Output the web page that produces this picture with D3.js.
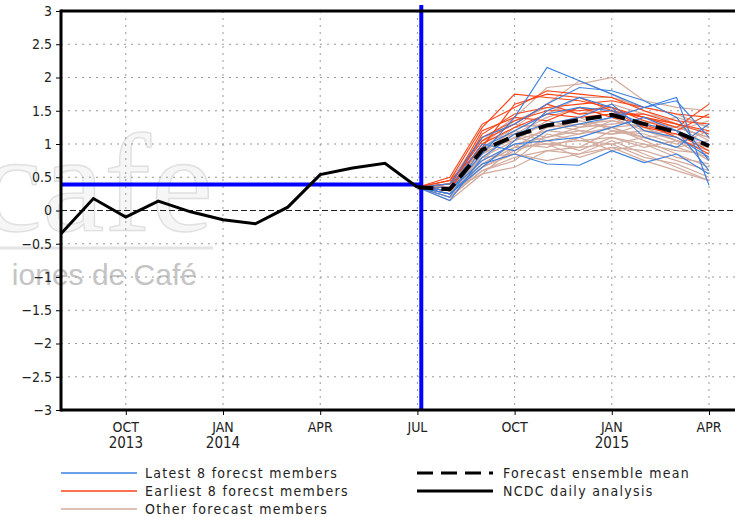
<!DOCTYPE html>
<html>
<head>
<meta charset="utf-8">
<script src="https://cdn.jsdelivr.net/npm/d3@7"></script>
<style>
  body { margin: 0; background: #fff; }
  svg { display: block; }
  text { font-family: "DejaVu Sans Condensed", "DejaVu Sans", sans-serif; fill: #222; }
</style>
</head>
<body>
<div id="chart"></div>
<script>
// month index 0 = Aug 2013
const tickMonths = [2, 5, 8, 11, 14, 17, 20]
const tickLabels = [['OCT', '2013'], ['JAN', '2014'], ['APR', ''], ['JUL', ''], ['OCT', ''], ['JAN', '2015'], ['APR', '']]
const yTicks = [-3, -2.5, -2, -1.5, -1, -0.5, 0, 0.5, 1, 1.5, 2, 2.5, 3]

const obsMonths = [0, 1, 2, 3, 4, 5, 6, 7, 8, 9, 10, 11]
const observed = [-0.35, 0.18, -0.10, 0.14, -0.02, -0.14, -0.20, 0.05, 0.54, 0.64, 0.71, 0.35]

// forecast months Jul 2014 .. Apr 2015
const fcMonths = [11, 12, 13, 14, 15, 16, 17, 18, 19, 20]
const ensembleMean = [0.35, 0.32, 0.91, 1.12, 1.28, 1.36, 1.44, 1.30, 1.18, 0.97]

const latestMembers = [
  [0.35, 0.30, 0.85, 1.40, 2.15, 1.95, 1.75, 1.55, 1.70, 0.38],
  [0.35, 0.25, 0.70, 0.85, 0.70, 0.68, 0.90, 0.72, 0.85, 0.55],
  [0.35, 0.40, 1.10, 1.30, 1.60, 1.85, 1.80, 1.65, 1.40, 0.75],
  [0.35, 0.20, 0.95, 1.20, 1.45, 1.55, 1.50, 1.30, 1.20, 1.00],
  [0.35, 0.30, 0.75, 1.00, 1.05, 1.10, 1.25, 1.40, 1.20, 0.60],
  [0.35, 0.15, 0.80, 1.15, 1.30, 1.40, 1.60, 1.20, 1.10, 0.80],
  [0.35, 0.35, 1.00, 0.90, 1.20, 1.30, 1.40, 1.55, 1.65, 1.10],
  [0.35, 0.25, 0.65, 1.05, 1.50, 1.70, 1.55, 1.10, 0.95, 1.30]
]

const earliestMembers = [
  [0.35, 0.45, 1.25, 1.75, 1.70, 1.65, 1.55, 1.40, 1.30, 1.15],
  [0.35, 0.50, 1.30, 1.55, 1.80, 1.75, 1.70, 1.50, 1.35, 1.30],
  [0.35, 0.30, 1.15, 1.45, 1.55, 1.60, 1.65, 1.55, 1.45, 1.40],
  [0.35, 0.40, 1.05, 1.30, 1.60, 1.45, 1.50, 1.40, 1.25, 1.60],
  [0.35, 0.35, 1.20, 1.40, 1.35, 1.55, 1.40, 1.30, 1.10, 0.85],
  [0.35, 0.45, 0.95, 1.60, 1.75, 1.70, 1.50, 1.25, 1.15, 0.90],
  [0.35, 0.30, 1.00, 1.25, 1.45, 1.40, 1.45, 1.45, 1.30, 1.20],
  [0.35, 0.40, 1.10, 1.35, 1.50, 1.50, 1.55, 1.35, 1.20, 1.45]
]

const otherMembers = [
  [0.35, 0.25, 0.70, 0.95, 1.00, 1.05, 1.10, 1.00, 0.90, 0.85],
  [0.35, 0.30, 0.80, 1.05, 1.20, 1.30, 1.35, 1.25, 1.05, 0.95],
  [0.35, 0.20, 0.60, 0.80, 0.90, 0.95, 1.00, 0.80, 0.70, 0.50],
  [0.35, 0.35, 0.90, 1.20, 1.45, 1.70, 1.70, 1.55, 1.45, 1.25],
  [0.35, 0.25, 0.65, 0.85, 1.20, 1.15, 1.25, 1.10, 0.95, 1.05],
  [0.35, 0.30, 0.95, 1.25, 1.30, 1.20, 1.15, 1.20, 1.05, 0.90],
  [0.35, 0.15, 0.55, 0.65, 0.90, 0.85, 1.05, 0.85, 0.65, 0.45],
  [0.35, 0.40, 1.05, 1.40, 1.85, 1.90, 2.00, 1.65, 1.55, 1.50],
  [0.35, 0.30, 0.75, 1.00, 1.10, 1.25, 1.30, 1.35, 1.25, 1.10],
  [0.35, 0.20, 0.85, 1.10, 1.00, 0.95, 1.20, 1.15, 1.00, 1.20],
  [0.35, 0.35, 1.00, 1.35, 1.55, 1.45, 1.60, 1.45, 1.35, 1.15],
  [0.35, 0.25, 0.70, 1.00, 0.95, 1.10, 0.90, 1.00, 0.80, 0.70],
  [0.35, 0.30, 0.90, 1.15, 1.40, 1.55, 1.50, 1.40, 1.30, 0.95],
  [0.35, 0.20, 0.65, 0.90, 1.05, 0.90, 1.10, 0.95, 1.05, 0.75],
  [0.35, 0.45, 1.10, 1.30, 1.25, 1.35, 1.25, 1.30, 1.20, 1.35],
  [0.35, 0.25, 0.80, 0.85, 0.75, 0.85, 0.95, 0.75, 0.60, 0.45],
  [0.35, 0.30, 0.85, 1.25, 1.60, 1.95, 1.75, 1.50, 1.30, 1.05],
  [0.35, 0.20, 0.60, 0.75, 1.15, 1.05, 1.00, 1.10, 0.95, 0.80],
  [0.35, 0.35, 0.95, 1.05, 1.35, 1.25, 1.40, 1.20, 1.15, 1.00],
  [0.35, 0.25, 0.75, 1.20, 1.10, 1.20, 1.15, 1.30, 1.40, 1.25],
  [0.35, 0.30, 0.70, 0.95, 1.25, 1.30, 1.25, 1.05, 0.85, 0.65],
  [0.35, 0.40, 1.05, 1.15, 1.05, 1.15, 1.35, 1.25, 1.25, 1.10],
  [0.35, 0.25, 0.85, 1.10, 1.30, 1.40, 1.20, 1.10, 1.15, 0.95],
  [0.35, 0.30, 0.55, 0.95, 1.00, 0.80, 0.95, 0.90, 0.75, 0.60]
]

const refValue = 0.39      // horizontal blue reference level
const refMonth = 11.12     // vertical blue line (start of July 2014)

const legendLeft = [
  { label: 'Latest 8 forecst members', color: '#3a7fe0' },
  { label: 'Earliest 8 forecst members', color: '#ff4214' },
  { label: 'Other forecast members', color: '#d2ab9e' }
]
const legendRight = [
  { label: 'Forecast ensemble mean', dash: '16,8' },
  { label: 'NCDC daily analysis', dash: null }
]

const W = 735, H = 517
const margin = { left: 61, top: 11, bottom: 107 }

const svg = d3.select('#chart').append('svg')
  .attr('width', W).attr('height', H)

// one month is about 32.4 px; plot runs past the right edge of the picture
const x = d3.scaleLinear().domain([0, 21]).range([margin.left, margin.left + 21 * 32.4])
const y = d3.scaleLinear().domain([-3, 3]).range([H - margin.bottom, margin.top])

// faint watermark
const wm = svg.append('g').attr('class', 'watermark')
wm.append('text')
  .attr('x', -20).attr('y', 231)
  .style('font-family', '"Liberation Serif", "DejaVu Serif", serif')
  .style('font-size', '140px')
  .style('fill', '#f6f6f6').style('stroke', '#e0e0e0').style('stroke-width', 1.4)
  .text('cafe')
wm.append('line')
  .attr('x1', 0).attr('x2', 213).attr('y1', 248).attr('y2', 248)
  .attr('stroke', '#e4e4e4').attr('stroke-width', 3)
wm.append('text')
  .attr('x', 197).attr('y', 285).attr('text-anchor', 'end')
  .style('font-family', '"Liberation Sans", sans-serif')
  .style('font-size', '30px')
  .style('fill', '#c4c4c4')
  .text('iones de Café')

// grid
const grid = svg.append('g').attr('class', 'grid')
grid.selectAll('.hgrid')
  .data(yTicks.filter(d => d !== 0 && d !== 3 && d !== -3))
  .enter().append('line')
  .attr('x1', x(0)).attr('x2', W)
  .attr('y1', d => y(d)).attr('y2', d => y(d))
  .attr('stroke', '#999').attr('stroke-width', 1).attr('stroke-dasharray', '2,5')
grid.selectAll('.vgrid')
  .data(tickMonths)
  .enter().append('line')
  .attr('x1', d => x(d)).attr('x2', d => x(d))
  .attr('y1', y(3)).attr('y2', y(-3))
  .attr('stroke', '#999').attr('stroke-width', 1).attr('stroke-dasharray', '2,5')
grid.append('line')
  .attr('x1', x(0)).attr('x2', W)
  .attr('y1', y(0)).attr('y2', y(0))
  .attr('stroke', '#222').attr('stroke-width', 1).attr('stroke-dasharray', '6,3')

// ensemble members
const line = d3.line().x((d, i) => x(fcMonths[i])).y(d => y(d))
function drawMembers(data, color, width) {
  svg.append('g').selectAll('path')
    .data(data)
    .enter().append('path')
    .attr('d', line)
    .attr('fill', 'none')
    .attr('stroke', color)
    .attr('stroke-width', width)
}
drawMembers(otherMembers, legendLeft[2].color, 1.2)
drawMembers(earliestMembers, legendLeft[1].color, 1.1)
drawMembers(latestMembers, legendLeft[0].color, 1.1)

// blue reference lines
svg.append('line')
  .attr('x1', x(0)).attr('x2', x(refMonth))
  .attr('y1', y(refValue)).attr('y2', y(refValue))
  .attr('stroke', '#0000ff').attr('stroke-width', 4)
svg.append('line')
  .attr('x1', x(refMonth)).attr('x2', x(refMonth))
  .attr('y1', y(3) - 6).attr('y2', y(-3))
  .attr('stroke', '#0000ff').attr('stroke-width', 4)

// ensemble mean
svg.append('path')
  .datum(ensembleMean)
  .attr('d', line)
  .attr('fill', 'none')
  .attr('stroke', '#000').attr('stroke-width', 4)
  .attr('stroke-dasharray', legendRight[0].dash)

// observed
svg.append('path')
  .datum(observed)
  .attr('d', d3.line().x((d, i) => x(obsMonths[i])).y(d => y(d)))
  .attr('fill', 'none')
  .attr('stroke', '#000').attr('stroke-width', 3)
  .attr('stroke-linejoin', 'miter')

// frame
svg.append('line').attr('x1', x(0)).attr('x2', W).attr('y1', y(3)).attr('y2', y(3))
  .attr('stroke', '#000').attr('stroke-width', 3)
svg.append('line').attr('x1', x(0)).attr('x2', W).attr('y1', y(-3)).attr('y2', y(-3))
  .attr('stroke', '#000').attr('stroke-width', 3)
svg.append('line').attr('x1', x(0)).attr('x2', x(0)).attr('y1', y(3) - 1.5).attr('y2', y(-3) + 1.5)
  .attr('stroke', '#000').attr('stroke-width', 3)

// y axis
const yAxis = svg.append('g')
  .attr('transform', 'translate(' + x(0) + ',0)')
  .call(d3.axisLeft(y).tickValues(yTicks).tickSize(5).tickPadding(4)
    .tickFormat(d => d < 0 ? '\u2212' + Math.abs(d) : d))
yAxis.select('.domain').remove()
yAxis.selectAll('text').style('font-size', '14px').attr('fill', '#222')
  .style('font-family', '"DejaVu Sans Condensed", "DejaVu Sans", sans-serif')

// x axis
const xAxis = svg.append('g')
  .attr('transform', 'translate(0,' + y(-3) + ')')
  .call(d3.axisBottom(x).tickValues(tickMonths).tickSize(5).tickFormat(''))
xAxis.select('.domain').remove()
const xl = svg.append('g').selectAll('g')
  .data(tickMonths)
  .enter().append('g')
  .attr('transform', d => 'translate(' + x(d) + ',0)')
xl.append('text')
  .attr('y', 432).attr('text-anchor', 'middle')
  .style('font-size', '14px')
  .text((d, i) => tickLabels[i][0])
xl.append('text')
  .attr('y', 448).attr('text-anchor', 'middle')
  .style('font-size', '15px')
  .text((d, i) => tickLabels[i][1])

// legend
const legY = [473, 491, 509]
const lg = svg.append('g').attr('class', 'legend')
legendLeft.forEach((d, i) => {
  lg.append('line')
    .attr('x1', 61).attr('x2', 137).attr('y1', legY[i]).attr('y2', legY[i])
    .attr('stroke', d.color).attr('stroke-width', 1.4)
  lg.append('text')
    .attr('x', 145).attr('y', legY[i] + 5)
    .style('font-size', '14px').style('letter-spacing', '1.3px')
    .text(d.label)
})
legendRight.forEach((d, i) => {
  lg.append('line')
    .attr('x1', 417).attr('x2', 493).attr('y1', legY[i]).attr('y2', legY[i])
    .attr('stroke', '#000').attr('stroke-width', 3)
    .attr('stroke-dasharray', d.dash)
  lg.append('text')
    .attr('x', 503).attr('y', legY[i] + 5)
    .style('font-size', '14px').style('letter-spacing', '1.3px')
    .text(d.label)
})
</script>
</body>
</html>
